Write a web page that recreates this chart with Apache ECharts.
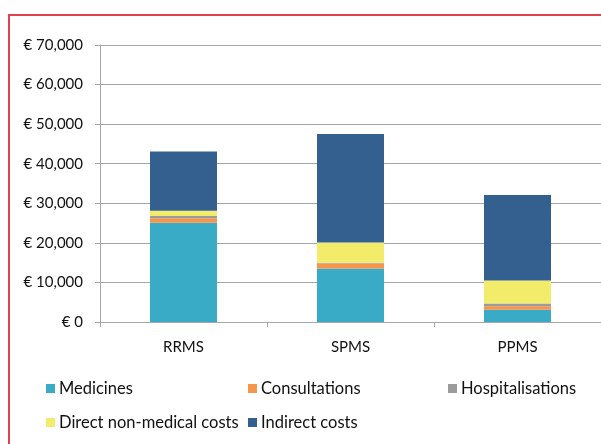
<!DOCTYPE html>
<html>
<head>
<meta charset="utf-8">
<script src="https://cdn.jsdelivr.net/npm/echarts@6/dist/echarts.min.js"></script>
<style>
  html, body { margin: 0; padding: 0; background: #fff; }
  #frame {
    position: absolute; left: 8px; top: 14px; width: 700px; height: 500px;
    border-top: 2px solid #e2414f; border-left: 2px solid #e2414f;
  }
  #chart { position: absolute; left: 0; top: 0; width: 601px; height: 444px; }
</style>
</head>
<body>
<div id="frame"></div>
<div id="chart"></div>
<script>
  // data
  const categories = ['RRMS', 'SPMS', 'PPMS']
  const medicines = [25100, 13500, 3100]
  const consultations = [1100, 1300, 900]
  const hospitalisations = [600, 200, 700]
  const directNonMedical = [1300, 5100, 5800]
  const indirect = [15000, 27400, 21600]
  const yTicks = [0, 10000, 20000, 30000, 40000, 50000, 60000, 70000]

  const font = 'Lato, "Open Sans", sans-serif'
  const seriesDefs = [
    { name: 'Medicines', data: medicines, color: '#3aabc6' },
    { name: 'Consultations', data: consultations, color: '#f7954a' },
    { name: 'Hospitalisations', data: hospitalisations, color: '#9b9b9b' },
    { name: 'Direct non-medical costs', data: directNonMedical, color: '#f2ec6a' },
    { name: 'Indirect costs', data: indirect, color: '#34608f' }
  ]
  // legend slots (two rows, three columns)
  const legendPos = [[41, 375], [243, 375], [443, 375], [41, 409], [243, 409]]

  const chart = echarts.init(document.getElementById('chart'))
  chart.setOption({
    animation: false,
    backgroundColor: 'transparent',
    grid: { left: 100, top: 45, width: 503, height: 277, containLabel: false },
    legend: seriesDefs.map((s, i) => ({
      data: [s.name],
      left: legendPos[i][0],
      top: legendPos[i][1],
      itemWidth: 9,
      itemHeight: 9,
      itemGap: 0,
      icon: 'rect',
      textStyle: { fontFamily: font, fontSize: 16.5, color: '#111', padding: [0, 0, 0, -1] }
    })),
    xAxis: {
      type: 'category',
      data: categories,
      axisLine: { lineStyle: { color: '#a6a6a6', width: 1 } },
      axisTick: { show: true, length: 5, alignWithLabel: false, lineStyle: { color: '#a6a6a6' } },
      axisLabel: { fontFamily: font, fontSize: 15, color: '#111', margin: 18 }
    },
    yAxis: {
      type: 'value',
      min: yTicks[0],
      max: yTicks[yTicks.length - 1],
      interval: 10000,
      axisLine: { show: true, lineStyle: { color: '#a6a6a6', width: 1 } },
      axisTick: { show: true, length: 5, lineStyle: { color: '#a6a6a6' } },
      splitLine: { lineStyle: { color: '#a6a6a6', width: 1 } },
      axisLabel: {
        fontFamily: font, fontSize: 15, color: '#111', margin: 17,
        formatter: v => '€ ' + v.toLocaleString('en-US')
      }
    },
    series: seriesDefs.map(s => ({
      name: s.name,
      type: 'bar',
      stack: 'cost',
      barWidth: 67,
      data: s.data,
      itemStyle: { color: s.color }
    }))
  })
</script>
</body>
</html>
